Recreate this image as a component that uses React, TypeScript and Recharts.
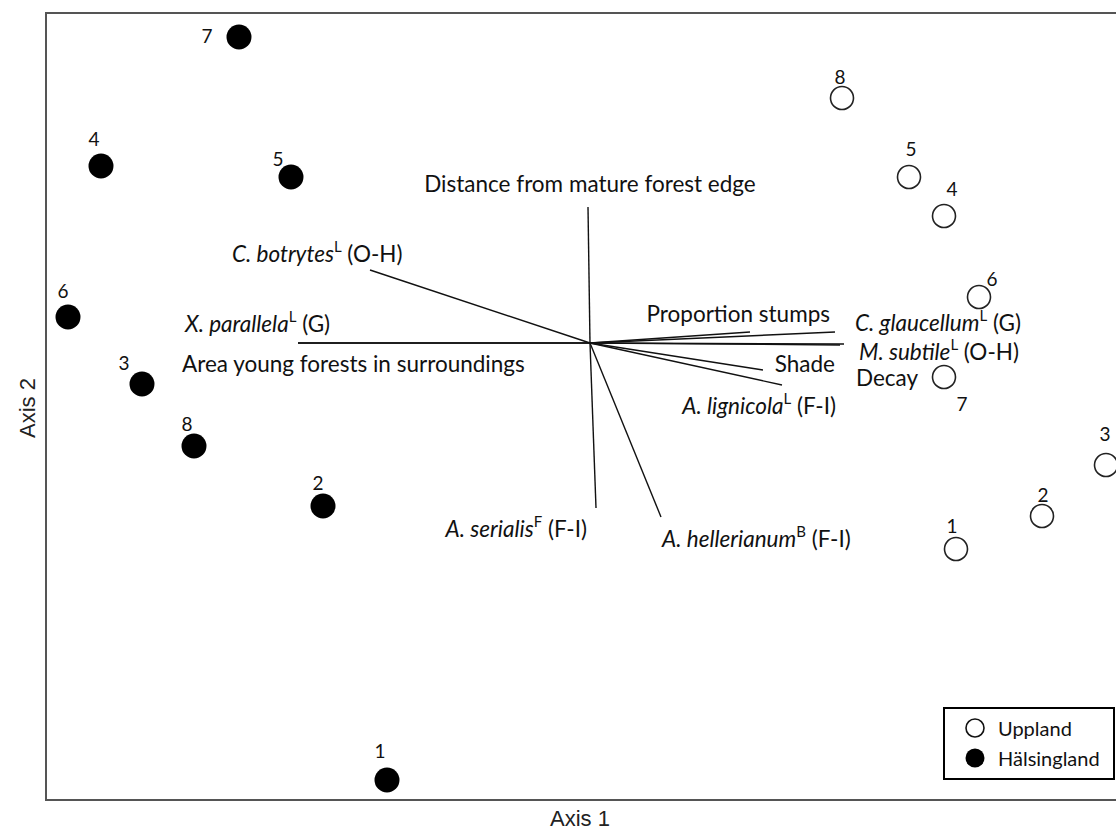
import React from 'react';
import { ScatterChart, Scatter, XAxis, YAxis, ReferenceLine, ReferenceArea, Legend } from 'recharts';

// site scores (axis 1, axis 2)
const siteIds = [1, 2, 3, 4, 5, 6, 7, 8];
const upplandX = [3.66, 4.52, 5.16, 3.54, 3.19, 3.89, 3.54, 2.52];
const upplandY = [-2.06, -1.73, -1.22, 1.27, 1.66, 0.46, -0.34, 2.45];
const halsX = [-2.03, -2.67, -4.48, -4.89, -2.99, -5.22, -3.51, -3.96];
const halsY = [-4.37, -1.63, -0.41, 1.77, 1.66, 0.26, 3.06, -1.03];

// fitted vectors
const vectorNames = ['Distance from mature forest edge', 'C. botrytes', 'X. parallela', 'Area young forests in surroundings', 'Proportion stumps', 'C. glaucellum', 'M. subtile', 'Decay', 'Shade', 'A. lignicola', 'A. serialis', 'A. hellerianum'];
const vectorSuper = ['', 'L', 'L', '', '', 'L', 'L', '', '', 'L', 'F', 'B'];
const vectorGuild = ['', 'O-H', 'G', '', '', 'G', 'O-H', '', '', 'F-I', 'F-I', 'F-I'];
const vectorX = [-0.02, -2.2, -2.92, -2.92, 1.6, 2.45, 2.54, 2.5, 1.73, 1.92, 0.06, 0.71];
const vectorY = [1.36, 0.73, 0, 0, 0.11, 0.11, -0.01, -0.02, -0.27, -0.42, -1.65, -1.74];

// where the vector names sit
const labelX = [0.0, -3.58, -4.05, -4.08, 2.4, 2.65, 2.69, 2.66, 2.45, 2.46, -0.03, 0.72];
const labelY = [1.6, 0.9, 0.2, -0.2, 0.3, 0.215, -0.075, -0.34, -0.2, -0.62, -1.85, -1.95];
const labelAnchor = ['middle', 'start', 'start', 'start', 'end', 'start', 'start', 'start', 'end', 'end', 'end', 'start'];

// number label offsets (px) around each site symbol
const upplandOffsets = [[-4, -24], [1, -22], [-1, -32], [8, -28], [2, -29], [13, -19], [18, 26], [-2, -22]];
const halsOffsets = [[-7, -30], [-5, -24], [-18, -22], [-7, -28], [-13, -19], [-5, -27], [-32, -2], [-7, -23]];

const FONT = 'Lato, "Open Sans", sans-serif';
const X_DOMAIN = [-5.44, 5.4];
const Y_DOMAIN = [-4.57, 3.3];

const uppland = siteIds.map((id, i) => ({ id, x: upplandX[i], y: upplandY[i], off: upplandOffsets[i] }));
const halsingland = siteIds.map((id, i) => ({ id, x: halsX[i], y: halsY[i], off: halsOffsets[i] }));
const vectorLabels = vectorNames.map((name, i) => ({ name, i, x: labelX[i], y: labelY[i] }));

const SiteShape = (filled: boolean) => (props: any) => {
    const { cx, cy, payload } = props;
    const [dx, dy] = payload.off;
    return (
        <g>
            {filled
                ? <circle cx={cx} cy={cy} r={12.5} fill="#000" />
                : <circle cx={cx} cy={cy} r={11.5} fill="#fff" stroke="#222" strokeWidth={1.6} />}
            <text x={cx + dx} y={cy + dy} textAnchor="middle" dominantBaseline="central" fontFamily={FONT} fontSize={19} fill="#111">
                {payload.id}
            </text>
        </g>
    );
};

const VectorLabel = (props: any) => {
    const { cx, cy, payload } = props;
    const i = payload.i;
    const sup = vectorSuper[i];
    return (
        <text x={cx} y={cy} textAnchor={labelAnchor[i]} dominantBaseline="central" fontFamily={FONT} fontSize={22.5} fill="#111">
            {sup ? (
                <>
                    <tspan fontStyle="italic">{payload.name}</tspan>
                    <tspan dy={-7} fontSize={15}>{sup}</tspan>
                    <tspan dy={7}>{` (${vectorGuild[i]})`}</tspan>
                </>
            ) : payload.name}
        </text>
    );
};

const renderLegend = () => (
    <div style={{ width: 172, height: 73, boxSizing: 'border-box', border: '2px solid #000', background: '#fff', fontFamily: FONT, fontSize: 20, color: '#111', position: 'relative' }}>
        <svg width={24} height={60} style={{ position: 'absolute', left: 18, top: 7 }}>
            <circle cx={12} cy={12} r={9} fill="#fff" stroke="#111" strokeWidth={1.6} />
            <circle cx={12} cy={42} r={9.5} fill="#000" />
        </svg>
        <div style={{ position: 'absolute', left: 53, top: 7, lineHeight: '24px' }}>Uppland</div>
        <div style={{ position: 'absolute', left: 53, top: 37, lineHeight: '24px' }}>Hälsingland</div>
    </div>
);

const App: React.FC = () => {
    return (
        <div style={{ position: 'absolute', left: 0, top: 0, width: 1116, height: 835, overflow: 'hidden', background: '#fff' }}>
            <ScatterChart width={1140} height={835} margin={{ top: 13, right: 10, bottom: 35, left: 46 }}>
                <XAxis type="number" dataKey="x" domain={X_DOMAIN} hide allowDataOverflow />
                <YAxis type="number" dataKey="y" domain={Y_DOMAIN} hide allowDataOverflow />
                <ReferenceArea x1={X_DOMAIN[0]} x2={X_DOMAIN[1]} y1={Y_DOMAIN[0]} y2={Y_DOMAIN[1]} fill="none" fillOpacity={0} stroke="#555" strokeWidth={2} ifOverflow="visible" />
                {vectorX.map((vx, i) => (
                    <ReferenceLine key={i} segment={[{ x: 0, y: 0 }, { x: vx, y: vectorY[i] }]} stroke="#111" strokeWidth={1.4} ifOverflow="visible" />
                ))}
                <Scatter data={vectorLabels} shape={VectorLabel} isAnimationActive={false} legendType="none" />
                <Scatter name="Uppland" data={uppland} shape={SiteShape(false)} isAnimationActive={false} />
                <Scatter name="Hälsingland" data={halsingland} shape={SiteShape(true)} isAnimationActive={false} />
                <Legend content={renderLegend} layout="horizontal" verticalAlign="middle" wrapperStyle={{ position: 'absolute', left: 943, top: 707, width: 'auto' }} />
            </ScatterChart>
            <div style={{ position: 'absolute', left: 480, width: 200, top: 806, textAlign: 'center', fontFamily: '"Liberation Sans", Arial, sans-serif', fontSize: 22, color: '#222' }}>Axis 1</div>
            <div style={{ position: 'absolute', left: 28, top: 408, transform: 'translate(-50%, -50%) rotate(-90deg)', whiteSpace: 'nowrap', fontFamily: '"Liberation Sans", Arial, sans-serif', fontSize: 22, color: '#222' }}>Axis 2</div>
        </div>
    );
};

export default App;
